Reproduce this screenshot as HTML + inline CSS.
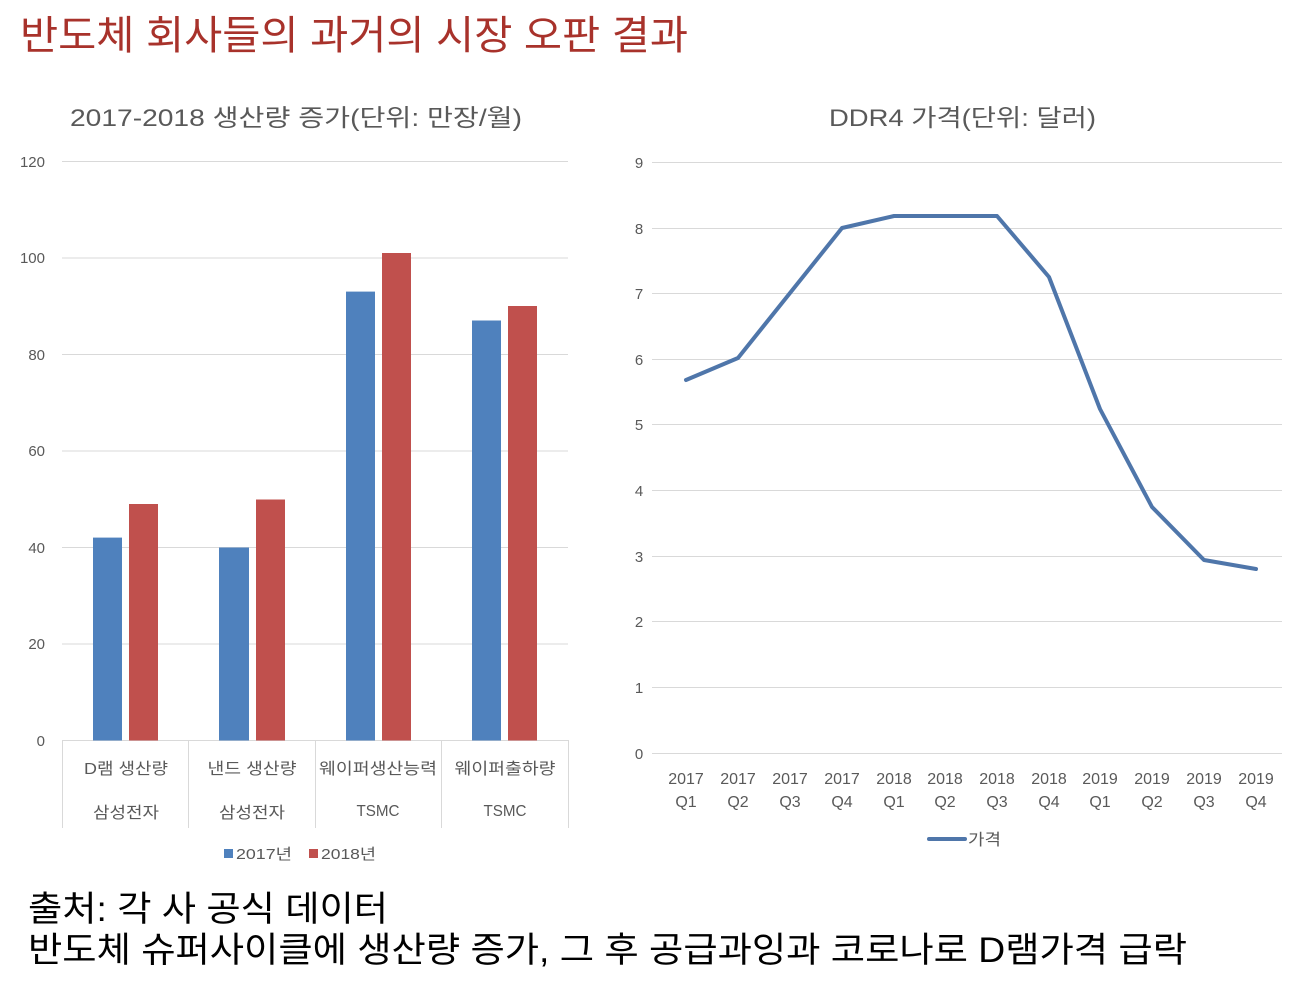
<!DOCTYPE html>
<html><head><meta charset="utf-8">
<style>
html,body{margin:0;padding:0;background:#fff;}
svg{display:block;}
text{font-family:"Liberation Sans","Noto Sans CJK KR",sans-serif;}
</style></head>
<body>
<svg width="1306" height="982" viewBox="0 0 1306 982" xmlns="http://www.w3.org/2000/svg">
<rect width="1306" height="982" fill="#fff"/>
<!-- Main title -->
<text x="20" y="49" font-size="40" fill="#a8322b" textLength="668" lengthAdjust="spacingAndGlyphs">반도체 회사들의 과거의 시장 오판 결과</text>

<!-- Left chart title -->
<text x="70" y="126" font-size="24" fill="#595959" textLength="452" lengthAdjust="spacingAndGlyphs">2017-2018 생산량 증가(단위: 만장/월)</text>

<!-- Left gridlines -->
<g stroke="#d9d9d9" stroke-width="1">
<line x1="62" y1="161.5" x2="568" y2="161.5"/>
<line x1="62" y1="258" x2="568" y2="258"/>
<line x1="62" y1="354.5" x2="568" y2="354.5"/>
<line x1="62" y1="451" x2="568" y2="451"/>
<line x1="62" y1="547.5" x2="568" y2="547.5"/>
<line x1="62" y1="644" x2="568" y2="644"/>
<line x1="62" y1="740.5" x2="568" y2="740.5"/>
<line x1="62.5" y1="740" x2="62.5" y2="828"/>
<line x1="188.5" y1="740" x2="188.5" y2="828"/>
<line x1="315.5" y1="740" x2="315.5" y2="828"/>
<line x1="441.5" y1="740" x2="441.5" y2="828"/>
<line x1="568.5" y1="740" x2="568.5" y2="828"/>
</g>
<!-- Left y labels -->
<g font-size="15" fill="#595959" text-anchor="end">
<text x="45" y="167">120</text>
<text x="45" y="263">100</text>
<text x="45" y="360">80</text>
<text x="45" y="456">60</text>
<text x="45" y="553">40</text>
<text x="45" y="649">20</text>
<text x="45" y="746">0</text>
</g>
<!-- Bars -->
<g fill="#4f81bd">
<rect x="93" y="537.6" width="29" height="202.9"/>
<rect x="219" y="547.5" width="30" height="193"/>
<rect x="346" y="291.6" width="29" height="448.9"/>
<rect x="472" y="320.5" width="29" height="420"/>
</g>
<g fill="#c0504d">
<rect x="129" y="504" width="29" height="236.5"/>
<rect x="256" y="499.5" width="29" height="241"/>
<rect x="382" y="253" width="29" height="487.5"/>
<rect x="508" y="306" width="29" height="434.5"/>
</g>
<!-- Category labels -->
<g font-size="16" fill="#595959" text-anchor="middle">
<text x="126" y="774" textLength="84" lengthAdjust="spacingAndGlyphs">D램 생산량</text>
<text x="252" y="774" textLength="89" lengthAdjust="spacingAndGlyphs">낸드 생산량</text>
<text x="378" y="774" textLength="118" lengthAdjust="spacingAndGlyphs">웨이퍼생산능력</text>
<text x="505" y="774" textLength="101" lengthAdjust="spacingAndGlyphs">웨이퍼출하량</text>
<text x="126" y="818" textLength="66" lengthAdjust="spacingAndGlyphs">삼성전자</text>
<text x="252" y="818" textLength="66" lengthAdjust="spacingAndGlyphs">삼성전자</text>
<text x="378" y="816" textLength="43" lengthAdjust="spacingAndGlyphs">TSMC</text>
<text x="505" y="816" textLength="43" lengthAdjust="spacingAndGlyphs">TSMC</text>
</g>
<!-- Left legend -->
<rect x="224" y="849" width="9" height="9" fill="#4f81bd"/>
<text x="236" y="859" font-size="15" fill="#595959" textLength="56" lengthAdjust="spacingAndGlyphs">2017년</text>
<rect x="309" y="849" width="9" height="9" fill="#c0504d"/>
<text x="321" y="859" font-size="15" fill="#595959" textLength="55" lengthAdjust="spacingAndGlyphs">2018년</text>

<!-- Right chart title -->
<text x="829" y="126" font-size="24" fill="#595959" textLength="267" lengthAdjust="spacingAndGlyphs">DDR4 가격(단위: 달러)</text>

<!-- Right gridlines -->
<g stroke="#d9d9d9" stroke-width="1">
<line x1="652" y1="162.5" x2="1282" y2="162.5"/>
<line x1="652" y1="228.5" x2="1282" y2="228.5"/>
<line x1="652" y1="293.5" x2="1282" y2="293.5"/>
<line x1="652" y1="359.5" x2="1282" y2="359.5"/>
<line x1="652" y1="424.5" x2="1282" y2="424.5"/>
<line x1="652" y1="490.5" x2="1282" y2="490.5"/>
<line x1="652" y1="556.5" x2="1282" y2="556.5"/>
<line x1="652" y1="621.5" x2="1282" y2="621.5"/>
<line x1="652" y1="687.5" x2="1282" y2="687.5"/>
<line x1="652" y1="753.5" x2="1282" y2="753.5"/>
</g>
<g font-size="15" fill="#595959" text-anchor="middle">
<text x="639" y="168">9</text>
<text x="639" y="234">8</text>
<text x="639" y="299">7</text>
<text x="639" y="365">6</text>
<text x="639" y="430">5</text>
<text x="639" y="496">4</text>
<text x="639" y="562">3</text>
<text x="639" y="627">2</text>
<text x="639" y="693">1</text>
<text x="639" y="759">0</text>
</g>
<!-- Line series -->
<polyline fill="none" stroke="#4f76aa" stroke-width="4" stroke-linejoin="round" stroke-linecap="round"
 points="686,380 738,358 790,293 842,228 894,216 945,216 997,216 1049,277 1100,409 1152,507 1204,560 1256,569"/>
<!-- Right x labels -->
<g font-size="16" fill="#595959" text-anchor="middle">
<text x="686" y="784">2017</text><text x="686" y="807">Q1</text>
<text x="738" y="784">2017</text><text x="738" y="807">Q2</text>
<text x="790" y="784">2017</text><text x="790" y="807">Q3</text>
<text x="842" y="784">2017</text><text x="842" y="807">Q4</text>
<text x="894" y="784">2018</text><text x="894" y="807">Q1</text>
<text x="945" y="784">2018</text><text x="945" y="807">Q2</text>
<text x="997" y="784">2018</text><text x="997" y="807">Q3</text>
<text x="1049" y="784">2018</text><text x="1049" y="807">Q4</text>
<text x="1100" y="784">2019</text><text x="1100" y="807">Q1</text>
<text x="1152" y="784">2019</text><text x="1152" y="807">Q2</text>
<text x="1204" y="784">2019</text><text x="1204" y="807">Q3</text>
<text x="1256" y="784">2019</text><text x="1256" y="807">Q4</text>
</g>
<!-- Right legend -->
<line x1="929" y1="839" x2="965" y2="839" stroke="#4f76aa" stroke-width="4" stroke-linecap="round"/>
<text x="968" y="845" font-size="16" fill="#595959" textLength="33" lengthAdjust="spacingAndGlyphs">가격</text>

<!-- Bottom text -->
<text x="28" y="921" font-size="35" fill="#000" textLength="360" lengthAdjust="spacingAndGlyphs">출처: 각 사 공식 데이터</text>
<text x="28" y="962" font-size="35" fill="#000" textLength="1159" lengthAdjust="spacingAndGlyphs">반도체 슈퍼사이클에 생산량 증가, 그 후 공급과잉과 코로나로 D램가격 급락</text>
</svg>
</body></html>
